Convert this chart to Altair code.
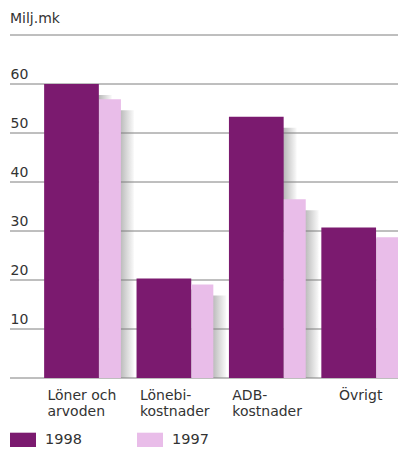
import altair as alt
import pandas as pd

# ---- data ----
categories = ["Löner och\narvoden", "Lönebi-\nkostnader", "ADB-\nkostnader", "Övrigt"]
years = ["1998", "1997"]
values_1998 = [60.0, 20.3, 53.3, 30.7]
values_1997 = [56.9, 19.1, 36.5, 28.7]
grid_values = [0, 10, 20, 30, 40, 50, 60, 70]
label_values = [10, 20, 30, 40, 50, 60]

rows = []
for c, a, b in zip(categories, values_1998, values_1997):
    rows.append({"cat": c, "year": "1998", "value": a})
    rows.append({"cat": c, "year": "1997", "value": b})
df = pd.DataFrame(rows)
grid_df = pd.DataFrame({"value": grid_values})

FONT = "DejaVu Sans"
TEXT = "#333333"
DARK = "#7b1a6f"
LIGHT = "#e9bde9"
GRID = "#7f7f7f"

xscale = alt.Scale(domain=categories, paddingInner=0.171, paddingOuter=0.185, align=1)
yscale = alt.Scale(domain=[0, 70], nice=False, zero=True)

x_axis = alt.Axis(
    title=None, domain=False, ticks=False, labelAngle=0,
    labelFont=FONT, labelFontSize=14, labelColor=TEXT,
    labelPadding=10, labelLineHeight=16, labelBaseline="top",
    labelExpr="split(datum.label, '\\n')",
    labelAlign={"condition": {"test": "datum.value == 'Övrigt'", "value": "center"}, "value": "left"},
    labelOffset={"condition": {"test": "datum.value == 'Övrigt'", "value": 1}, "value": -35},
)
y_axis = alt.Axis(
    title=None, values=label_values, grid=False, domain=False, ticks=False, tickSize=0,
    labelAlign="left", labelBaseline="alphabetic", labelPadding=0, labelOffset=-6,
    labelFont=FONT, labelFontSize=14, labelColor=TEXT, labelOverlap=False, labelFlush=False,
)

X = alt.X("cat:N", scale=xscale, axis=x_axis)
Y = alt.Y("value:Q", scale=yscale, axis=y_axis)

color = alt.Color(
    "year:N",
    scale=alt.Scale(domain=years, range=[DARK, LIGHT]),
    legend=alt.Legend(
        title=None, orient="none", legendX=0, legendY=392, direction="horizontal",
        symbolType="M-1,-0.58H1V0.58H-1Z", symbolSize=676, symbolStrokeWidth=0, symbolOpacity=1,
        labelFont=FONT, labelFontSize=14.5, labelColor=TEXT, labelOffset=9, columnPadding=55,
    ),
)

W98 = 55 / 77
W97 = 22 / 77

def shadow_grad(start):
    return alt.Gradient(
        gradient="linear", x1=0, x2=1, y1=0, y2=0,
        stops=[
            alt.GradientStop(offset=0, color="#b0b0b0"),
            alt.GradientStop(offset=start, color="#b8b8b8"),
            alt.GradientStop(offset=1, color="#fafafa"),
        ],
    )

base = alt.Chart(df)

shadow98 = base.transform_filter("datum.year == '1998'").mark_bar(
    width=alt.RelativeBandSize(band=W98), xOffset=2, yOffset=11, clip=True,
    color=shadow_grad(0.76)
).encode(x=X, y=Y)
shadow97 = base.transform_filter("datum.year == '1997'").mark_bar(
    width=alt.RelativeBandSize(band=W97), xOffset=40.5, yOffset=11, clip=True,
    color=shadow_grad(0.36)
).encode(x=X, y=Y)

grid = alt.Chart(grid_df).mark_rule(color=GRID, strokeWidth=1).encode(y=Y)

bars98 = base.transform_filter("datum.year == '1998'").mark_bar(
    width=alt.RelativeBandSize(band=W98), xOffset=-11
).encode(x=X, y=Y, color=color)
bars97 = base.transform_filter("datum.year == '1997'").mark_bar(
    width=alt.RelativeBandSize(band=W97), xOffset=27.5
).encode(x=X, y=Y, color=color)

chart = alt.layer(shadow98, shadow97, grid, bars98, bars97).properties(
    width=388, height=343,
    padding={"left": 2, "top": 27, "right": 0, "bottom": 69},
    autosize=alt.AutoSizeParams(type="none"),
    title=alt.TitleParams(
        "Milj.mk", anchor="start", frame="group", font=FONT, fontSize=14,
        fontWeight="normal", color=TEXT, baseline="alphabetic", offset=8, dy=10,
    ),
).configure_view(stroke=None)

chart.save("out.html", embed_options={"renderer": "svg", "actions": False})
